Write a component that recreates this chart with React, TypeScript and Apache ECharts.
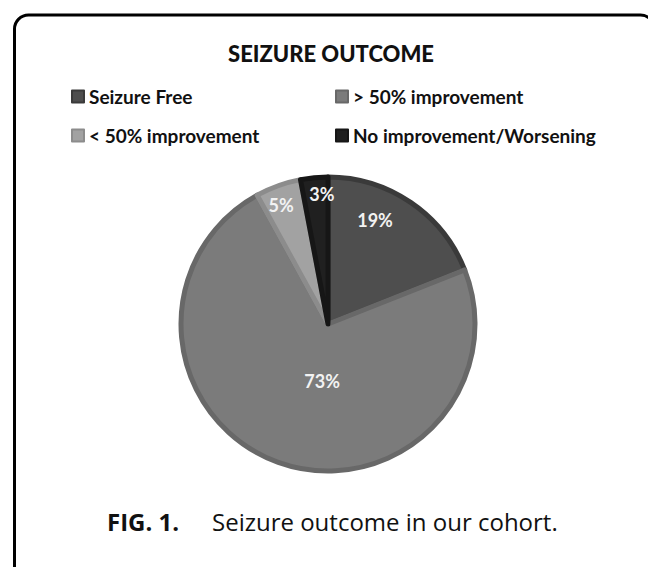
import React, { useEffect, useRef } from "react";
import * as echarts from "echarts";

const TITLE = "SEIZURE OUTCOME";
const CATEGORIES = [
  "Seizure Free",
  "> 50% improvement",
  "< 50% improvement",
  "No improvement/Worsening",
];
const VALUES = [19, 73, 5, 3];
const FILLS = ["#4e4e4e", "#7b7b7b", "#a2a2a2", "#202020"];
const BORDERS = ["#3a3a3a", "#686868", "#8c8c8c", "#161616"];
const LABEL_OFFSETS = [
  [4, -41],
  [20, -15],
  [-21, -47],
  [1, -54],
];
const CAPTION_BOLD = "FIG. 1.";
const CAPTION_TEXT = "Seizure outcome in our cohort.";

export default function App() {
  const ref = useRef<HTMLDivElement>(null);
  useEffect(() => {
    if (!ref.current) return;
    const chart = echarts.init(ref.current, null, { renderer: "svg" });
    const legendText = {
      fontFamily: "Lato",
      fontWeight: "bold" as const,
      fontSize: 19,
      color: "#111",
    };
    const legendBase = {
      orient: "vertical" as const,
      top: 82,
      itemWidth: 12,
      itemHeight: 12,
      itemGap: 20,
      icon: "rect",
      textStyle: legendText,
      selectedMode: false,
    };
    chart.setOption({
      animation: false,
      backgroundColor: "#ffffff",
      title: {
        text: TITLE,
        left: 326,
        textAlign: "center",
        top: 37,
        textStyle: {
          fontFamily: "Lato",
          fontWeight: "900",
          fontSize: 22,
          color: "#111",
        },
      },
      color: FILLS,
      legend: [
        { ...legendBase, data: [CATEGORIES[0], CATEGORIES[2]], left: 66 },
        { ...legendBase, data: [CATEGORIES[1], CATEGORIES[3]], left: 330 },
      ],
      series: [
        {
          type: "pie",
          center: [328, 324],
          radius: 147,
          startAngle: 90,
          clockwise: true,
          avoidLabelOverlap: false,
          label: {
            show: true,
            position: "inside",
            formatter: "{c}%",
            fontFamily: "Lato",
            fontWeight: "bold",
            fontSize: 18,
            color: "#f2f2f2",
          },
          labelLine: { show: false },
          data: CATEGORIES.map((name, i) => ({
            name,
            value: VALUES[i],
            itemStyle: {
              color: FILLS[i],
              borderColor: BORDERS[i],
              borderWidth: 5,
            },
            label: { offset: LABEL_OFFSETS[i] },
          })),
        },
      ],
      graphic: [
        {
          type: "rect",
          shape: { x: 14.5, y: 15, width: 640, height: 620, r: 14 },
          style: { fill: "none", stroke: "#000", lineWidth: 3 },
          silent: true,
        },
        {
          type: "text",
          left: 107,
          top: 509,
          style: {
            text: CAPTION_BOLD,
            fontFamily: "Open Sans",
            fontWeight: "bold",
            fontSize: 24,
            fill: "#111",
          },
        },
        {
          type: "text",
          left: 212,
          top: 509,
          style: {
            text: CAPTION_TEXT,
            fontFamily: "Open Sans",
            fontSize: 24,
            fill: "#111",
          },
        },
      ],
    });
    return () => chart.dispose();
  }, []);
  return (
    <div
      ref={ref}
      style={{ position: "absolute", left: 0, top: 0, width: 648, height: 567 }}
    />
  );
}
